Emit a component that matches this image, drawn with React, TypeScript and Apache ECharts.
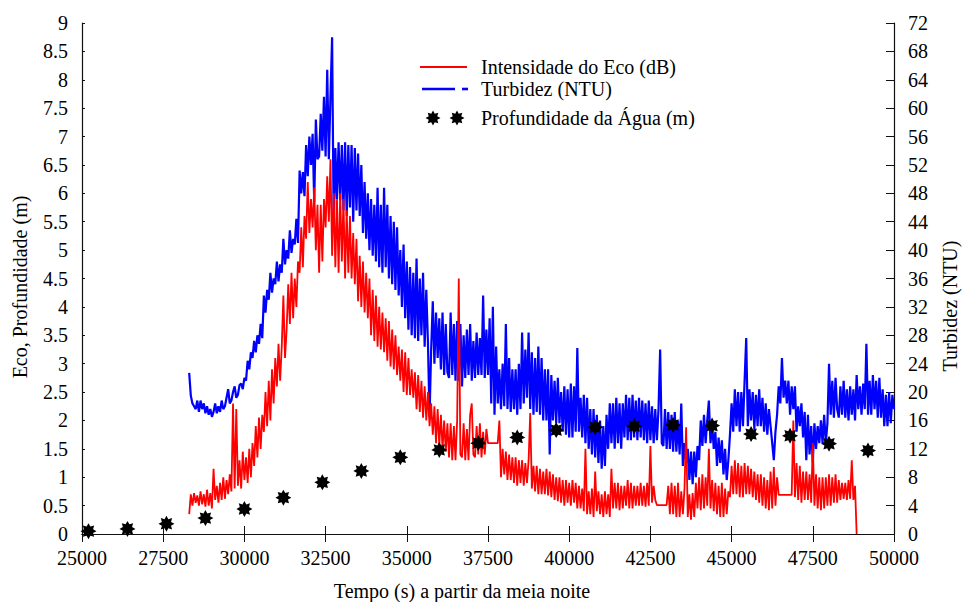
import React, { useEffect, useRef } from 'react';
import * as echarts from 'echarts';

// Sampling grid of the two logged series (seconds after midnight)
const ECHO_START = 28300;
const TURB_START = 28300;
const SAMPLE_STEP = 50;

// Intensidade do Eco (dB) – left axis, one row = 1000 s
const echoValues = [
  0.35, 0.7, 0.5, 0.72, 0.55, 0.68, 0.5, 0.75, 0.52, 0.7, 0.48, 0.78, 0.5, 0.72, 0.45, 1.15, 0.6, 0.85, 0.55, 0.9,
  0.6, 1.0, 0.62, 0.95, 0.7, 1.05, 0.75, 2.3, 0.8, 2.2, 0.85, 1.3, 0.8, 1.45, 0.95, 1.35, 0.9, 1.5, 1.0, 1.6,
  1.2, 1.9, 1.35, 2.05, 1.5, 2.1, 1.8, 2.5, 1.9, 2.7, 2.0, 2.9, 2.3, 3.1, 2.6, 3.35, 2.7, 3.3, 4.2, 3.1,
  3.6, 4.4, 3.7, 4.6, 3.8, 4.5, 4.0, 4.8, 4.6, 5.4, 4.7, 5.6, 5.2, 6.2, 5.3, 5.9, 5.4, 6.1, 5.0, 5.8,
  4.6, 5.8, 4.8, 5.9, 5.4, 6.3, 5.5, 6.6, 4.9, 6.0, 4.7, 5.9, 4.6, 6.0, 4.8, 5.9, 4.5, 5.7, 4.6, 5.6,
  4.5, 5.3, 4.4, 5.2, 4.1, 4.9, 4.0, 4.8, 3.9, 4.6, 3.8, 4.5, 3.5, 4.3, 3.4, 4.2, 3.3, 4.0, 3.25, 3.9,
  3.2, 3.8, 3.05, 3.75, 2.95, 3.6, 2.9, 3.5, 2.8, 3.3, 2.7, 3.25, 2.5, 3.2, 2.45, 3.1, 2.45, 2.9, 2.4, 2.85,
  2.2, 2.8, 2.15, 2.7, 2.05, 2.6, 2.0, 2.5, 1.9, 2.3, 1.75, 2.25, 1.6, 2.2, 1.55, 2.1, 1.5, 2.0, 1.45, 1.95,
  1.35, 1.95, 1.3, 1.9, 1.3, 2.0, 4.5, 1.4, 1.35, 1.95, 1.3, 1.85, 1.3, 2.1, 2.3, 1.4, 1.35, 1.9, 1.4, 1.95,
  1.35, 1.8, 1.4, 1.85, 1.6, 1.6, 1.6, 1.6, 1.6, 1.6, 1.6, 2.0, 1.0, 1.5, 1.05, 1.45, 0.95, 1.4, 0.95, 1.35,
  0.9, 1.35, 0.85, 1.3, 0.9, 1.3, 0.85, 1.25, 0.9, 1.3, 2.13, 0.8, 1.2, 0.75, 1.2, 0.7, 1.15, 0.7, 1.1, 0.7,
  1.15, 0.68, 1.1, 0.65, 1.05, 0.6, 1.0, 0.58, 1.0, 0.55, 0.95, 0.5, 0.95, 0.55, 0.9, 0.5, 0.95, 0.55, 0.9, 0.45,
  0.85, 0.45, 0.8, 0.4, 1.5, 0.35, 0.75, 0.35, 0.8, 0.3, 1.1, 0.4, 0.75, 0.35, 0.7, 0.3, 0.75, 0.35, 0.7, 0.3,
  1.15, 0.45, 0.9, 0.45, 0.9, 0.42, 0.85, 0.45, 0.85, 0.5, 0.95, 0.45, 0.9, 0.45, 0.85, 0.5, 0.85, 0.5, 0.9, 0.5,
  0.85, 0.48, 0.9, 0.5, 1.55, 0.55, 0.85, 0.6, 0.51, 0.51, 0.51, 0.51, 0.51, 0.51, 0.51, 0.85, 0.35, 0.9, 0.35, 0.85,
  0.3, 0.9, 0.3, 0.75, 0.35, 0.8, 1.88, 0.3, 0.7, 0.25, 0.72, 0.3, 0.9, 0.45, 1.0, 0.42, 1.05, 0.45, 1.0, 0.5,
  1.5, 0.45, 0.95, 0.4, 0.9, 0.35, 0.85, 0.3, 0.9, 0.3, 0.8, 0.35, 0.75, 0.65, 1.2, 0.7, 1.3, 0.7, 1.25, 0.65,
  1.2, 0.65, 1.25, 0.7, 1.2, 0.7, 1.15, 0.65, 1.1, 0.6, 1.05, 0.55, 1.05, 0.5, 1.0, 0.45, 0.95, 0.42, 1.1, 0.45,
  1.18, 0.5, 1.0, 0.69, 0.69, 0.69, 0.69, 0.69, 0.69, 0.69, 0.69, 0.69, 2.0, 0.65, 1.25, 0.6, 1.2, 0.55, 1.1, 0.6,
  1.1, 0.6, 1.05, 0.55, 1.6, 0.5, 1.05, 0.45, 1.0, 0.42, 1.0, 0.45, 1.0, 0.5, 1.05, 0.5, 1.0, 0.55, 1.05, 0.55,
  0.95, 0.6, 0.9, 0.62, 0.9, 0.6, 0.95, 0.62, 1.3, 0.6, 0.85, 0
];

// Turbidez (NTU) – right axis, one row = 1000 s
const turbValues = [
  22.7, 19.5, 18.4, 18.0, 17.6, 18.8, 17.2, 18.8, 17.6, 18.4, 17.0, 18.0, 16.8, 17.6, 16.5, 17.2, 18.4, 17.0, 18.0, 17.2,
  18.8, 17.6, 18.0, 19.2, 20.4, 18.4, 18.8, 20.0, 20.8, 19.2, 19.6, 21.0, 21.2, 20.4, 22.0, 21.6, 24.4, 23.2, 25.6, 24.8,
  27.2, 25.6, 28.0, 26.8, 29.6, 27.6, 33.6, 31.2, 34.4, 33.0, 36.8, 34.0, 36.0, 35.2, 38.4, 35.6, 38.0, 36.8, 41.6, 38.0,
  40.0, 38.8, 42.8, 39.6, 41.6, 40.8, 44.4, 41.0, 51.2, 48.0, 51.0, 47.6, 54.8, 50.4, 56.0, 52.0, 56.4, 46.8, 58.4, 52.8,
  53.2, 59.2, 54.0, 61.6, 53.2, 65.4, 52.8, 61.6, 70.0, 43.2, 54.4, 47.2, 55.2, 47.0, 54.8, 45.6, 55.2, 44.8, 54.8, 46.0,
  54.8, 44.0, 54.4, 45.6, 53.6, 44.8, 52.0, 42.4, 49.6, 41.6, 48.0, 40.0, 47.2, 39.2, 46.4, 38.4, 48.8, 37.6, 46.4, 36.8,
  48.8, 37.6, 46.4, 36.0, 44.8, 35.2, 44.0, 34.4, 43.2, 33.6, 40.0, 32.0, 40.8, 30.4, 38.4, 28.8, 37.6, 28.0, 36.8, 27.6,
  38.8, 27.2, 36.0, 28.0, 36.8, 26.4, 34.4, 27.2, 16.5, 26.0, 32.8, 24.0, 31.2, 24.8, 30.4, 23.2, 31.2, 22.4, 29.6, 22.8,
  22.0, 31.2, 22.4, 29.6, 21.6, 30.0, 21.6, 29.6, 20.8, 28.0, 22.0, 28.8, 22.4, 29.6, 21.6, 27.2, 22.0, 28.4, 22.4, 27.6,
  22.4, 33.6, 22.0, 28.8, 22.4, 30.4, 18.4, 32.0, 16.8, 26.4, 18.4, 23.2, 17.6, 24.0, 18.0, 29.6, 17.6, 24.8, 17.2, 23.2,
  17.6, 23.2, 16.8, 24.0, 17.6, 28.4, 18.4, 26.0, 19.2, 28.4, 17.6, 25.6, 16.8, 24.8, 17.2, 26.4, 16.8, 24.8, 16.0, 23.2,
  16.0, 23.2, 11.2, 22.4, 16.0, 21.6, 15.6, 22.0, 15.6, 20.0, 14.4, 20.8, 14.0, 20.4, 13.6, 21.2, 13.6, 20.8, 14.4, 26.2,
  14.4, 19.2, 13.6, 19.6, 12.8, 19.2, 12.0, 17.6, 11.2, 17.6, 10.8, 16.8, 10.0, 16.0, 9.2, 15.2, 9.6, 16.8, 12.0, 18.4,
  12.8, 18.4, 12.0, 19.2, 12.8, 18.4, 12.0, 18.4, 13.6, 19.6, 13.2, 19.2, 13.2, 19.6, 13.6, 18.8, 13.2, 19.2, 13.6, 18.8,
  13.2, 18.4, 12.8, 18.8, 13.2, 18.0, 12.8, 17.6, 13.2, 17.6, 26.0, 12.8, 12.4, 17.6, 12.0, 17.2, 12.0, 16.8, 11.6, 17.2,
  11.6, 16.0, 11.2, 18.4, 9.6, 12.8, 10.0, 12.0, 7.6, 11.6, 7.0, 11.6, 8.0, 12.4, 10.4, 16.0, 12.4, 16.8, 12.8, 16.0,
  18.8, 12.8, 15.6, 12.0, 14.4, 9.6, 13.6, 10.0, 13.2, 8.4, 12.0, 7.6, 10.4, 14.0, 18.4, 14.4, 20.4, 15.2, 20.0, 14.4,
  20.0, 15.2, 21.6, 27.6, 15.2, 20.4, 16.0, 20.0, 14.8, 19.6, 15.2, 20.4, 15.2, 19.2, 14.4, 18.4, 14.0, 17.6, 15.2, 12.8,
  10.4, 14.4, 16.8, 20.8, 18.4, 24.8, 19.2, 21.6, 18.4, 21.6, 16.8, 20.8, 17.6, 20.8, 14.4, 18.0, 15.2, 18.4, 13.6, 17.2,
  10.4, 16.8, 11.2, 15.2, 10.0, 15.6, 12.0, 15.2, 12.8, 16.0, 12.8, 16.8, 12.8, 15.6, 24.0, 16.8, 21.6, 16.4, 22.0, 17.6,
  16.4, 20.8, 16.8, 21.6, 16.4, 20.4, 16.0, 20.8, 16.8, 20.4, 16.0, 22.4, 17.6, 20.8, 16.8, 21.2, 17.6, 26.8, 16.8, 21.6,
  16.8, 22.4, 17.6, 21.6, 16.4, 22.0, 16.4, 20.4, 15.2, 19.6, 15.2, 20.0, 15.6, 19.6, 17.6
];

// Profundidade da Água (m) – left axis
const depthTimes = [
  25200, 26400, 27600, 28800, 30000, 31200, 32400, 33600, 34800, 36000, 37200,
  38400, 39600, 40800, 42000, 43200, 44400, 45600, 46800, 48000, 49200
];
const depthValues = [
  0.05, 0.09, 0.18, 0.28, 0.44, 0.64, 0.91, 1.11, 1.35, 1.48, 1.6,
  1.7, 1.83, 1.88, 1.9, 1.92, 1.91, 1.76, 1.73, 1.59, 1.47
];

const X_MIN = 25000;
const X_MAX = 50000;
const X_STEP = 2500;
const LEFT_MAX = 9;
const LEFT_STEP = 0.5;
const RIGHT_MAX = 72;
const RIGHT_STEP = 4;

const FONT = '"Liberation Serif", "Times New Roman", serif';

function starPoints(cx: number, cy: number, R: number, r: number): number[][] {
  const pts: number[][] = [];
  for (let k = 0; k < 16; k++) {
    const a = -Math.PI / 2 + (k * Math.PI) / 8;
    const rad = k % 2 === 0 ? R : r;
    pts.push([cx + rad * Math.cos(a), cy + rad * Math.sin(a)]);
  }
  return pts;
}

function starPath(): string {
  const pts = starPoints(10, 10, 10, 6.2);
  return (
    'path://M' +
    pts.map((p) => p[0].toFixed(2) + ' ' + p[1].toFixed(2)).join(' L') +
    ' Z'
  );
}

export default function App() {
  const ref = useRef<HTMLDivElement>(null);

  useEffect(() => {
    document.body.style.margin = '0';
    if (!ref.current) return;
    const chart = echarts.init(ref.current, undefined, { renderer: 'svg' });

    const echoData = echoValues.map((v, i) => [ECHO_START + i * SAMPLE_STEP, v]);
    const turbData = turbValues.map((v, i) => [TURB_START + i * SAMPLE_STEP, v]);
    const depthData = depthTimes.map((t, i) => [t, depthValues[i]]);

    const axisLine = { show: true, lineStyle: { color: '#111', width: 1.2 } };
    const labelStyle = { color: '#000', fontFamily: FONT, fontSize: 20 };

    chart.setOption({
      animation: false,
      backgroundColor: '#fff',
      grid: { left: 82, right: 69, top: 23, bottom: 68, containLabel: false },
      xAxis: [
        {
          type: 'value',
          position: 'bottom',
          min: X_MIN,
          max: X_MAX,
          interval: X_STEP,
          axisLine,
          axisTick: { show: true, inside: true, length: 8, lineStyle: { color: '#111' } },
          axisLabel: { ...labelStyle, margin: 14, formatter: (v: number) => String(v) },
          splitLine: { show: false },
        },
        {
          type: 'value',
          position: 'top',
          min: X_MIN,
          max: X_MAX,
          interval: X_STEP,
          axisLine,
          axisTick: { show: true, inside: true, length: 8, lineStyle: { color: '#111' } },
          axisLabel: { show: false },
          splitLine: { show: false },
        },
      ],
      yAxis: [
        {
          type: 'value',
          position: 'left',
          min: 0,
          max: LEFT_MAX,
          interval: LEFT_STEP,
          axisLine,
          axisTick: { show: true, inside: true, length: 3, lineStyle: { color: '#111' } },
          axisLabel: { ...labelStyle, margin: 14 },
          splitLine: { show: false },
        },
        {
          type: 'value',
          position: 'right',
          min: 0,
          max: RIGHT_MAX,
          interval: RIGHT_STEP,
          axisLine,
          axisTick: { show: true, inside: true, length: 8, lineStyle: { color: '#111' } },
          axisLabel: { ...labelStyle, margin: 14 },
          splitLine: { show: false },
        },
      ],
      series: [
        {
          name: 'Turbidez (NTU)',
          type: 'line',
          xAxisIndex: 0,
          yAxisIndex: 1,
          data: turbData,
          symbol: 'none',
          showSymbol: false,
          lineStyle: { color: '#0000ff', width: 2.2 },
          z: 2,
        },
        {
          name: 'Intensidade do Eco (dB)',
          type: 'line',
          xAxisIndex: 0,
          yAxisIndex: 0,
          data: echoData,
          symbol: 'none',
          showSymbol: false,
          lineStyle: { color: '#ff0000', width: 1.8 },
          z: 3,
        },
        {
          name: 'Profundidade da Água (m)',
          type: 'scatter',
          xAxisIndex: 0,
          yAxisIndex: 0,
          data: depthData,
          symbol: starPath(),
          symbolSize: 16,
          itemStyle: { color: '#000', opacity: 1 },
          z: 4,
        },
      ],
      graphic: [
        // legend
        { type: 'line', shape: { x1: 420, y1: 67, x2: 467, y2: 67 }, style: { stroke: '#ff0000', lineWidth: 2 } },
        {
          type: 'text', x: 481, y: 67,
          style: { text: 'Intensidade do Eco (dB)', fill: '#000', fontFamily: FONT, fontSize: 20, align: 'left', verticalAlign: 'middle' },
        },
        { type: 'line', shape: { x1: 422, y1: 89, x2: 455, y2: 89 }, style: { stroke: '#0000ff', lineWidth: 2.6 } },
        { type: 'line', shape: { x1: 462, y1: 89, x2: 468, y2: 89 }, style: { stroke: '#0000ff', lineWidth: 2.6 } },
        {
          type: 'text', x: 481, y: 89,
          style: { text: 'Turbidez (NTU)', fill: '#000', fontFamily: FONT, fontSize: 20, align: 'left', verticalAlign: 'middle' },
        },
        { type: 'polygon', shape: { points: starPoints(433, 118, 7.5, 4.6) }, style: { fill: '#000' } },
        { type: 'polygon', shape: { points: starPoints(457, 118, 7.5, 4.6) }, style: { fill: '#000' } },
        {
          type: 'text', x: 481, y: 118,
          style: { text: 'Profundidade da Água (m)', fill: '#000', fontFamily: FONT, fontSize: 20, align: 'left', verticalAlign: 'middle' },
        },
        // axis titles
        {
          type: 'text', x: 462, y: 591,
          style: { text: 'Tempo (s) a partir da meia noite', fill: '#000', fontFamily: FONT, fontSize: 20, align: 'center', verticalAlign: 'middle' },
        },
        {
          type: 'text', x: 20, y: 287, rotation: Math.PI / 2,
          style: { text: 'Eco, Profundidade (m)', fill: '#000', fontFamily: FONT, fontSize: 20, align: 'center', verticalAlign: 'middle' },
        },
        {
          type: 'text', x: 950, y: 306, rotation: Math.PI / 2,
          style: { text: 'Turbidez (NTU)', fill: '#000', fontFamily: FONT, fontSize: 20, align: 'center', verticalAlign: 'middle' },
        },
      ],
    });

    return () => chart.dispose();
  }, []);

  return <div ref={ref} style={{ width: 963, height: 602 }} />;
}
